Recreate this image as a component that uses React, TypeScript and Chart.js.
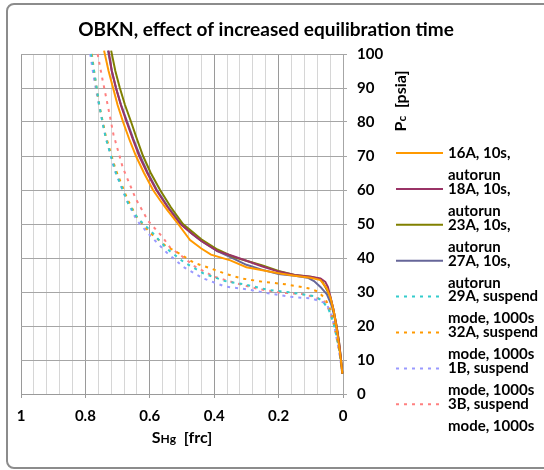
import React, { useEffect, useRef } from "react";
import { Chart, registerables } from "chart.js";

Chart.register(...registerables);

const TITLE = "OBKN, effect of increased equilibration time";
const X_TICK_LABELS = ["1", "0.8", "0.6", "0.4", "0.2", "0"];
const Y_TICKS_STEP = 10;

// 16A, 10s, autorun
const s16A_x = [0.742, 0.728, 0.714, 0.7, 0.683, 0.664, 0.643, 0.618, 0.59, 0.568, 0.545, 0.512, 0.475, 0.44, 0.41, 0.35, 0.3, 0.25, 0.2, 0.15, 0.1, 0.07, 0.05, 0.038, 0.028, 0.02, 0.012, 0.006, 0.002];
const s16A_y = [101, 95, 90, 85, 80, 75, 70, 65, 60, 57, 54, 50, 45.3, 42.8, 41, 39.3, 37.3, 36.4, 35.5, 34.8, 34.2, 33.5, 31, 28, 24, 19.5, 14, 9.5, 6];
// 18A, 10s, autorun
const s18A_x = [0.728, 0.718, 0.705, 0.69, 0.672, 0.653, 0.633, 0.608, 0.58, 0.545, 0.505, 0.47, 0.44, 0.39, 0.34, 0.3, 0.25, 0.2, 0.15, 0.1, 0.07, 0.055, 0.047, 0.04, 0.03, 0.02, 0.012, 0.006, 0.002];
const s18A_y = [101, 95, 90, 85, 80, 75, 70, 65, 60, 55, 50, 47.2, 45, 42, 40.5, 39.2, 37.5, 36, 35, 34.5, 34, 33, 31.5, 29, 25, 20, 15, 10, 6];
// 23A, 10s, autorun
const s23A_x = [0.72, 0.707, 0.693, 0.677, 0.658, 0.64, 0.621, 0.597, 0.568, 0.535, 0.497, 0.465, 0.44, 0.39, 0.34, 0.3, 0.25, 0.2, 0.15, 0.1, 0.068, 0.055, 0.04, 0.03, 0.02, 0.012, 0.006, 0.002];
const s23A_y = [101, 95, 90, 85, 80, 75, 70, 65, 60, 55, 50, 47.5, 45.5, 42.5, 40.3, 39.2, 37.8, 36.2, 35, 34.5, 33.7, 31.5, 28.7, 25, 20, 15, 10, 6];
// 27A, 10s, autorun
const s27A_x = [0.73, 0.718, 0.705, 0.689, 0.67, 0.651, 0.63, 0.606, 0.578, 0.543, 0.503, 0.47, 0.44, 0.39, 0.34, 0.3, 0.25, 0.2, 0.15, 0.11, 0.09, 0.07, 0.05, 0.035, 0.025, 0.017, 0.01, 0.005, 0.002];
const s27A_y = [101, 95, 90, 85, 80, 75, 70, 65, 60, 55, 50, 47.2, 45, 42, 39.8, 38, 36.5, 35.3, 34.8, 34.2, 33.2, 31.5, 29.3, 26, 22, 18, 13, 9, 6];
// 29A, suspend mode, 1000s
const s29A_x = [0.782, 0.768, 0.757, 0.745, 0.736, 0.705, 0.667, 0.636, 0.594, 0.548, 0.496, 0.434, 0.366, 0.299, 0.232, 0.165, 0.092, 0.066, 0.045, 0.03, 0.02, 0.012, 0.006, 0.002];
const s29A_y = [100, 92, 85, 79, 75, 65, 56, 51.5, 47.7, 42.8, 38.9, 35.5, 33.2, 32.1, 30.6, 29.9, 28.8, 27.6, 25, 21, 17, 13, 9, 6];
// 32A, suspend mode, 1000s
const s32A_x = [0.78, 0.77, 0.757, 0.737, 0.706, 0.668, 0.64, 0.6, 0.55, 0.506, 0.463, 0.413, 0.36, 0.315, 0.248, 0.18, 0.108, 0.077, 0.055, 0.04, 0.028, 0.018, 0.01, 0.005, 0.002];
const s32A_y = [100, 93, 85, 76, 66, 57, 52, 47.5, 43.5, 41.2, 38.6, 37, 35.2, 34, 33, 32.3, 31.1, 30.1, 28, 25, 21, 16, 12, 8, 6];
// 1B, suspend mode, 1000s
const s1B_x = [0.785, 0.772, 0.758, 0.738, 0.71, 0.672, 0.64, 0.598, 0.55, 0.496, 0.434, 0.366, 0.299, 0.232, 0.165, 0.097, 0.051, 0.035, 0.025, 0.015, 0.008, 0.002];
const s1B_y = [100, 92, 85, 76, 66, 57, 51, 46.5, 41.8, 37.4, 34, 31.6, 30.8, 29.6, 28.6, 28.1, 26.6, 23, 19, 14, 10, 6];
// 3B, suspend mode, 1000s
const s3B_x = [0.762, 0.748, 0.734, 0.713, 0.684, 0.643, 0.605, 0.56, 0.537, 0.5, 0.46, 0.4, 0.33, 0.258, 0.19, 0.128, 0.092, 0.06, 0.045, 0.03, 0.018, 0.01, 0.005, 0.002];
const s3B_y = [100, 93, 86.5, 76.4, 66.6, 57.3, 50.9, 46.1, 43.1, 40.5, 37.5, 34.5, 32.5, 30.8, 29.8, 29.4, 28.6, 27.5, 25, 21, 16, 12, 8, 6];

const SERIES_LABELS = [
  ["16A, 10s,", "autorun"],
  ["18A, 10s,", "autorun"],
  ["23A, 10s,", "autorun"],
  ["27A, 10s,", "autorun"],
  ["29A, suspend", "mode, 1000s"],
  ["32A, suspend", "mode, 1000s"],
  ["1B, suspend", "mode, 1000s"],
  ["3B, suspend", "mode, 1000s"],
];
const SERIES_X = [s16A_x, s18A_x, s23A_x, s27A_x, s29A_x, s32A_x, s1B_x, s3B_x];
const SERIES_Y = [s16A_y, s18A_y, s23A_y, s27A_y, s29A_y, s32A_y, s1B_y, s3B_y];
const SERIES_COLORS = ["#FF9900", "#993366", "#808000", "#666699", "#33CCCC", "#FF9900", "#9999FF", "#FF8080"];
const SERIES_DASHED = [false, false, false, false, true, true, true, true];

const FONT = "Lato, 'Liberation Sans', sans-serif";
const DASH = [3, 5];

function isMajor(v: number) {
  return Math.abs(v / 0.2 - Math.round(v / 0.2)) < 1e-6;
}

const textPlugin = {
  id: "customText",
  afterDraw(chart: any) {
    const ctx = chart.ctx as CanvasRenderingContext2D;
    const area = chart.chartArea;
    ctx.save();
    ctx.fillStyle = "#000";
    // Title
    ctx.font = `bold 19px ${FONT}`;
    ctx.textAlign = "center";
    ctx.textBaseline = "middle";
    ctx.fillText(TITLE, 266, 30);

    // X axis title: S Hg  [frc]
    const cx = (area.left + area.right) / 2;
    const parts: [string, number][] = [["S", 16], ["Hg", 12], ["  [frc]", 16]];
    let total = 0;
    parts.forEach(([t, s]) => {
      ctx.font = `bold ${s}px ${FONT}`;
      total += ctx.measureText(t).width;
    });
    let x = cx - total / 2;
    ctx.textAlign = "left";
    ctx.textBaseline = "alphabetic";
    parts.forEach(([t, s]) => {
      ctx.font = `bold ${s}px ${FONT}`;
      ctx.fillText(t, x, 443);
      x += ctx.measureText(t).width;
    });

    // Y axis title: P c  [psia], rotated
    ctx.save();
    ctx.translate(406, 101);
    ctx.rotate(-Math.PI / 2);
    const yparts: [string, number][] = [["P", 16], ["c", 12], ["  [psia]", 16]];
    let ytotal = 0;
    yparts.forEach(([t, s]) => {
      ctx.font = `bold ${s}px ${FONT}`;
      ytotal += ctx.measureText(t).width;
    });
    let yx = -ytotal / 2;
    yparts.forEach(([t, s]) => {
      ctx.font = `bold ${s}px ${FONT}`;
      ctx.fillText(t, yx, 0);
      yx += ctx.measureText(t).width;
    });
    ctx.restore();

    // Legend
    const lineX0 = 396;
    const lineX1 = 443;
    const textX = 448;
    const startY = 153;
    const step = 35.9;
    chart.data.datasets.forEach((ds: any, i: number) => {
      const y = startY + i * step;
      ctx.save();
      ctx.strokeStyle = ds.borderColor;
      ctx.lineWidth = 2;
      ctx.setLineDash(ds.borderDash || []);
      ctx.beginPath();
      ctx.moveTo(lineX0, y);
      ctx.lineTo(lineX1, y);
      ctx.stroke();
      ctx.restore();
      ctx.font = `bold 15px ${FONT}`;
      ctx.textAlign = "left";
      ctx.textBaseline = "middle";
      ctx.fillStyle = "#000";
      ctx.fillText(SERIES_LABELS[i][0], textX, y);
      ctx.fillText(SERIES_LABELS[i][1], textX, y + 22);
    });
    ctx.restore();
  },
};

export default function App() {
  const canvasRef = useRef<HTMLCanvasElement | null>(null);

  useEffect(() => {
    const canvas = canvasRef.current;
    if (!canvas) return;
    const datasets = SERIES_X.map((xs, i) => ({
      label: SERIES_LABELS[i].join(" "),
      data: xs.map((x, j) => ({ x, y: SERIES_Y[i][j] })),
      borderColor: SERIES_COLORS[i],
      backgroundColor: SERIES_COLORS[i],
      borderWidth: 2,
      borderDash: SERIES_DASHED[i] ? DASH : [],
      pointRadius: 0,
      tension: 0,
      fill: false,
      showLine: true,
      clip: { left: 0, top: 5, right: 2, bottom: 0 },
    }));

    const chart = new Chart(canvas, {
      type: "scatter",
      data: { datasets },
      options: {
        responsive: false,
        animation: false,
        devicePixelRatio: 1,
        layout: { padding: { left: 21, top: 54, right: 0, bottom: 0 } },
        plugins: {
          legend: { display: false },
          tooltip: { enabled: false },
          title: { display: false },
        },
        scales: {
          x: {
            type: "linear",
            min: 0,
            max: 1,
            reverse: true,
            position: "bottom",
            afterFit: (s: any) => {
              s.height = 76;
            },
            ticks: {
              stepSize: 0.04,
              autoSkip: false,
              maxRotation: 0,
              minRotation: 0,
              padding: 9,
              color: "#000",
              font: { family: FONT, size: 15, weight: "bold" },
              callback: (v: any) => {
                const n = Number(v);
                if (!isMajor(n)) return "";
                const r = Math.round(n * 5) / 5;
                const lbl = X_TICK_LABELS.find((t) => Math.abs(parseFloat(t) - r) < 1e-6);
                return lbl ?? String(r);
              },
            },
            grid: {
              color: (c: any) => (c.tick && isMajor(c.tick.value) ? "#9a9a9a" : "#d6d6d6"),
              tickColor: (c: any) => (c.tick && isMajor(c.tick.value) ? "#9a9a9a" : "rgba(0,0,0,0)"),
              tickLength: 4,
              lineWidth: 1,
            },
            border: { color: "#9a9a9a", width: 1 },
          },
          y: {
            type: "linear",
            min: 0,
            max: 100,
            position: "right",
            afterFit: (s: any) => {
              s.width = 201;
            },
            ticks: {
              stepSize: Y_TICKS_STEP,
              padding: 10,
              color: "#000",
              font: { family: FONT, size: 15, weight: "bold" },
            },
            grid: {
              color: "#a6a6a6",
              tickColor: "#a6a6a6",
              tickLength: 4,
              lineWidth: 1,
            },
            border: { color: "#a6a6a6", width: 1 },
          },
        },
      },
      plugins: [textPlugin],
    });
    return () => chart.destroy();
  }, []);

  return (
    <div style={{ position: "fixed", left: 0, top: 0, width: 544, height: 470, background: "#fff", overflow: "hidden" }}>
      <div
        style={{
          position: "absolute",
          left: 6,
          top: 3,
          width: 560,
          height: 466,
          boxSizing: "border-box",
          border: "2px solid #8c8c8c",
          borderRadius: 8,
        }}
      />
      <canvas ref={canvasRef} width={544} height={470} style={{ position: "absolute", left: 0, top: 0, width: 544, height: 470 }} />
    </div>
  );
}
